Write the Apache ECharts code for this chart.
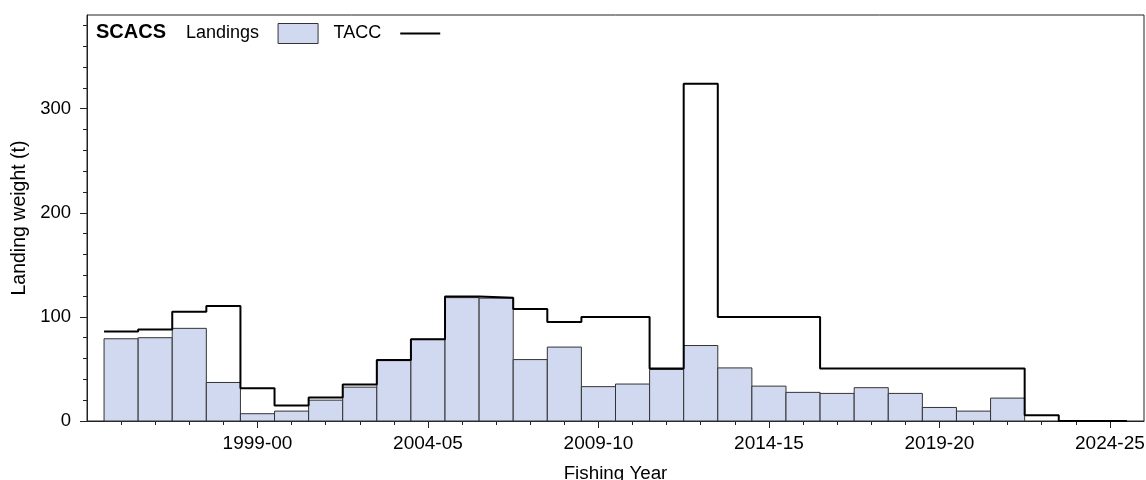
<!DOCTYPE html>
<html>
<head>
<meta charset="utf-8">
<script src="https://cdn.jsdelivr.net/npm/echarts@6/dist/echarts.min.js"></script>
<style>
html,body{margin:0;padding:0;background:#fff;}
#c{width:1146px;height:480px;}
</style>
</head>
<body>
<div id="c"></div>
<script>
// Fishing years (index 0 = 1995-96)
const years = ['1995-96','1996-97','1997-98','1998-99','1999-00','2000-01','2001-02','2002-03','2003-04','2004-05',
  '2005-06','2006-07','2007-08','2008-09','2009-10','2010-11','2011-12','2012-13','2013-14','2014-15',
  '2015-16','2016-17','2017-18','2018-19','2019-20','2020-21','2021-22','2022-23','2023-24','2024-25'];
// Landings (t), 1995-96 .. 2021-22
const landings = [79, 80, 89, 37, 7, 9.5, 20, 32.5, 58, 78.5,
  118.5, 118, 59, 71, 33, 35.5, 49.5, 72.5, 51, 33.5,
  27.5, 26.5, 32, 26.5, 13, 9.5, 22];
// TACC (t), 1995-96 .. 2024-25
const tacc = [86, 88, 105, 110.5, 31.5, 15, 22.5, 35, 58.5, 78.5,
  119.5, 118.5, 107.5, 95, 100, 100, 50.5, 324, 100, 100,
  100, 50.5, 50.5, 50.5, 50.5, 50.5, 50.5, 5.5, 0, 0];
// Tick labels shown on the x axis
const xTickLabels = ['1999-00','2004-05','2009-10','2014-15','2019-20','2024-25'];
const yTickLabels = [0, 100, 200, 300];
const yMinorTicks = [20,40,60,80,120,140,160,180,220,240,260,280,320,340,360,380];

const xMajor = xTickLabels.map(l => years.indexOf(l));
const xMinor = years.map((y, i) => i);

const barData = landings.map((v, i) => [i, v]);
const taccData = tacc.map((v, i) => [i - 0.5, v]);
taccData.push([tacc.length - 0.5, tacc[tacc.length - 1]]);

const FILL = '#d1d9f1';
const EDGE = '#333333';
const FONT = 'Liberation Sans, Arial, sans-serif';

const chart = echarts.init(document.getElementById('c'), null, {renderer: 'canvas'});
chart.setOption({
  animation: false,
  backgroundColor: '#ffffff',
  textStyle: {fontFamily: FONT},
  title: {
    text: 'SCACS', left: 96, top: 22, padding: 0,
    textStyle: {fontFamily: FONT, fontSize: 20, fontWeight: 'bold', color: '#000'}
  },
  legend: {
    left: 186, top: 23, padding: 0,
    align: 'right',
    itemWidth: 40, itemHeight: 20, itemGap: 15,
    textStyle: {fontFamily: FONT, fontSize: 18, color: '#000', padding: [0, 14, 0, 0]},
    data: [
      {name: 'Landings', icon: 'rect', itemStyle: {color: FILL, borderColor: EDGE, borderWidth: 1}},
      {name: 'TACC', icon: 'path://M0,0 M40,20 M0,9 L40,9 L40,11 L0,11 Z', itemStyle: {color: '#000', borderWidth: 0}}
    ]
  },
  grid: {
    left: 87, right: 2, top: 15, bottom: 59,
    containLabel: false, outerBoundsMode: 'none',
    show: true, borderColor: '#222', borderWidth: 1, backgroundColor: 'transparent'
  },
  xAxis: [
    {
      type: 'value', min: -1, max: 30, position: 'bottom',
      splitLine: {show: false},
      axisLine: {show: true, onZero: false, lineStyle: {color: '#222', width: 1}},
      axisTick: {show: true, length: 7, customValues: xMajor, lineStyle: {color: '#222'}},
      axisLabel: {
        show: true, customValues: xMajor, margin: 13,
        fontFamily: FONT, fontSize: 19, color: '#000',
        formatter: v => years[Math.round(v)] || ''
      },
      name: 'Fishing Year', nameLocation: 'middle', nameGap: 43,
      nameTextStyle: {fontFamily: FONT, fontSize: 18.8, color: '#000'}
    },
    {
      type: 'value', min: -1, max: 30, position: 'bottom',
      splitLine: {show: false},
      axisLine: {show: false, onZero: false},
      axisTick: {show: true, length: 4, customValues: xMinor, lineStyle: {color: '#222'}},
      axisLabel: {show: false}
    }
  ],
  yAxis: [
    {
      type: 'value', min: 0, max: 390, position: 'left',
      splitLine: {show: false},
      axisLine: {show: true, onZero: false, lineStyle: {color: '#222', width: 1}},
      axisTick: {show: true, length: 7, customValues: yTickLabels, lineStyle: {color: '#222'}},
      axisLabel: {
        show: true, customValues: yTickLabels, margin: 16,
        fontFamily: FONT, fontSize: 18.5, color: '#000'
      },
      name: 'Landing weight (t)', nameLocation: 'middle', nameGap: 55,
      nameTextStyle: {fontFamily: FONT, fontSize: 19.5, color: '#000'}
    },
    {
      type: 'value', min: 0, max: 390, position: 'left',
      splitLine: {show: false},
      axisLine: {show: false, onZero: false},
      axisTick: {show: true, length: 4, customValues: yMinorTicks, lineStyle: {color: '#222'}},
      axisLabel: {show: false}
    }
  ],
  series: [
    {
      name: 'Landings', type: 'custom', xAxisIndex: 0, yAxisIndex: 0,
      itemStyle: {color: FILL, borderColor: EDGE, borderWidth: 1},
      encode: {x: 0, y: 1},
      data: barData,
      renderItem: function (params, api) {
        const x = api.value(0), v = api.value(1);
        const p0 = api.coord([x - 0.5, v]);
        const p1 = api.coord([x + 0.5, 0]);
        return {
          type: 'rect',
          shape: {x: p0[0], y: p0[1], width: p1[0] - p0[0], height: p1[1] - p0[1]},
          style: {fill: FILL, stroke: EDGE, lineWidth: 1}
        };
      },
      z: 2
    },
    {
      name: 'TACC', type: 'line', xAxisIndex: 0, yAxisIndex: 0,
      step: 'end', symbol: 'none', showSymbol: false,
      lineStyle: {color: '#000', width: 2},
      itemStyle: {color: '#000'},
      data: taccData,
      z: 3
    }
  ]
});
</script>
</body>
</html>
